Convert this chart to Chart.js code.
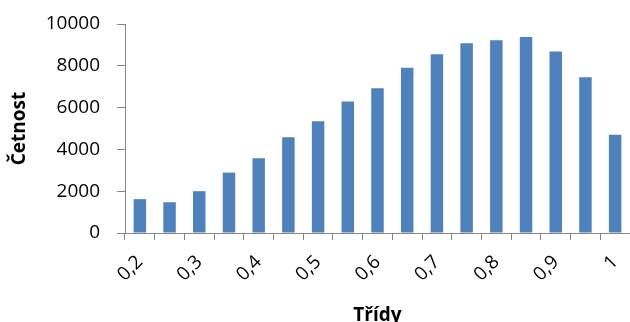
<!DOCTYPE html>
<html>
<head>
<meta charset="utf-8">
<script src="https://cdn.jsdelivr.net/npm/chart.js@4"></script>
<style>
  html, body { margin: 0; padding: 0; background: #fff; overflow: hidden; }
  #wrap { width: 630px; height: 334px; }
</style>
</head>
<body>
<div id="wrap"><canvas id="histChart" width="630" height="334"></canvas></div>
<script>
  // class upper bounds (0,2 .. 1 step 0,05)
  const classes = ['0,2', '0,25', '0,3', '0,35', '0,4', '0,45', '0,5', '0,55', '0,6',
                   '0,65', '0,7', '0,75', '0,8', '0,85', '0,9', '0,95', '1'];
  const counts = [1620, 1470, 2000, 2890, 3580, 4580, 5350, 6290, 6920,
                  7910, 8550, 9080, 9220, 9380, 8690, 7450, 4700];
  const yTicks = [0, 2000, 4000, 6000, 8000, 10000];

  const FONT = "'Open Sans', 'Noto Sans', sans-serif";
  const AXIS_GREY = '#868686';

  const ctx = document.getElementById("histChart").getContext("2d");
  const histChart = new Chart(ctx, {
    type: 'bar',
    data: {
      labels: classes,
      datasets: [
        {
          label: 'Četnost',
          data: counts,
          backgroundColor: '#4f81bd',
          borderWidth: 0,
          barPercentage: 0.42,
          categoryPercentage: 1.0
        }
      ]
    },
    options: {
      responsive: false,
      animation: false,
      layout: { padding: { top: 24, right: 0, left: 0, bottom: 0 } },
      plugins: {
        legend: { display: false },
        tooltip: { enabled: false }
      },
      scales: {
        x: {
          offset: true,
          grid: {
            display: true,
            offset: true,
            drawOnChartArea: false,
            color: AXIS_GREY,
            tickLength: 7
          },
          border: { color: AXIS_GREY },
          ticks: {
            autoSkip: false,
            maxRotation: 45,
            minRotation: 45,
            padding: 11,
            color: '#000',
            font: { family: FONT, size: 19 },
            // only every other class gets a label
            callback: (val, i) => (i % 2 === 0 ? classes[i] : '')
          },
          title: {
            display: true,
            text: 'Třídy',
            color: '#000',
            font: { family: FONT, size: 19, weight: 'bold' },
            padding: { top: 0, bottom: 7 }
          },
          afterFit: scale => {
            scale.height = 101;
            scale.paddingLeft = 0;
            scale.paddingRight = 0;
          }
        },
        y: {
          min: 0,
          max: 10000,
          afterBuildTicks: scale => {
            scale.ticks = yTicks.map(v => ({ value: v }));
          },
          grid: {
            display: true,
            drawOnChartArea: false,
            color: AXIS_GREY,
            tickLength: 8
          },
          border: { color: AXIS_GREY },
          ticks: {
            padding: 17,
            color: '#000',
            font: { family: FONT, size: 19 },
            callback: val => String(val)
          },
          title: {
            display: true,
            text: 'Četnost',
            color: '#000',
            font: { family: FONT, size: 19, weight: 'bold' },
            padding: { top: 8, bottom: 0 }
          },
          afterFit: scale => {
            scale.width = 125;
            scale.paddingTop = 0;
            scale.paddingBottom = 0;
          }
        }
      }
    }
  });
</script>
</body>
</html>
